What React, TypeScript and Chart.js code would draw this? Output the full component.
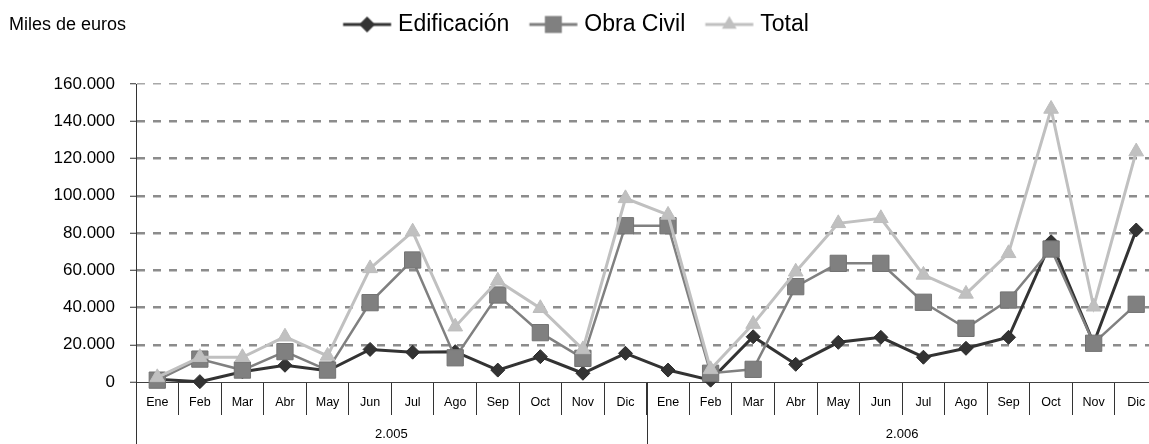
import React, { useEffect, useRef } from 'react';
import { Chart, registerables } from 'chart.js';

Chart.register(...registerables);

const FONT = "'Liberation Sans', Arial, Helvetica, sans-serif";

const unitLabel = 'Miles de euros';
const months = ['Ene', 'Feb', 'Mar', 'Abr', 'May', 'Jun', 'Jul', 'Ago', 'Sep', 'Oct', 'Nov', 'Dic'];
const years = ['2.005', '2.006'];
const categories = [...months, ...months];

const edificacion = [1500, 200, 5500, 9000, 6000, 17500, 16000, 16300, 6400, 13600, 4700, 15400,
  6400, 1000, 24300, 9500, 21300, 24000, 13300, 18100, 24000, 75300, 20800, 81600];
const obraCivil = [1000, 12300, 6400, 16300, 6400, 42600, 65500, 13000, 46700, 26500, 12700, 83900,
  83900, 4700, 6800, 51200, 63700, 63700, 42800, 28800, 44000, 71400, 20800, 41700];
const total = [2500, 13300, 13300, 24300, 14000, 61000, 80700, 29700, 54400, 39600, 17500, 98600,
  89700, 6800, 31100, 59200, 85200, 87900, 57500, 47300, 69100, 146600, 40400, 123700];

const yMax = 160000;
const yStep = 20000;

const seriesNames = ['Edificación', 'Obra Civil', 'Total'];
const seriesColors = ['#333333', '#808080', '#c0c0c0'];
const seriesShapes = ['diamond', 'square', 'triangle'];

const LEGEND_SHIFT = -11;

function fmt(v: number): string {
  return String(Math.round(v)).replace(/\B(?=(\d{3})+(?!\d))/g, '.');
}

function legendGlyph(color: string, shape: string): HTMLCanvasElement {
  const W = 66, H = 26;
  const c = document.createElement('canvas');
  c.width = W; c.height = H;
  const g = c.getContext('2d')!;
  const cx = W / 2 + 5.75, cy = H / 2;
  g.strokeStyle = color; g.lineWidth = 3;
  g.beginPath(); g.moveTo(cx - 24, cy); g.lineTo(cx + 24, cy); g.stroke();
  g.fillStyle = color;
  g.beginPath();
  if (shape === 'diamond') {
    const r = 8;
    g.moveTo(cx, cy - r); g.lineTo(cx + r, cy); g.lineTo(cx, cy + r); g.lineTo(cx - r, cy); g.closePath();
  } else if (shape === 'square') {
    const r = 8.5;
    g.rect(cx - r, cy - r, 2 * r, 2 * r);
  } else {
    const r = 8.5;
    g.moveTo(cx, cy - r);
    g.lineTo(cx + r * Math.sin(2 * Math.PI / 3), cy + r / 2);
    g.lineTo(cx - r * Math.sin(2 * Math.PI / 3), cy + r / 2);
    g.closePath();
  }
  g.fill();
  return c;
}

const yearRowPlugin = {
  id: 'yearRow',
  afterLayout(chart: any) {
    const lg = chart.legend;
    if (lg) { lg.left += LEGEND_SHIFT; lg.right += LEGEND_SHIFT; }
  },
  afterDraw(chart: any) {
    const xs = chart.scales.x;
    const area = chart.chartArea;
    const ctx = chart.ctx;
    ctx.save();
    ctx.strokeStyle = '#333333';
    ctx.lineWidth = 1;
    ctx.fillStyle = '#000000';
    ctx.font = `13px ${FONT}`;
    ctx.textAlign = 'center';
    ctx.textBaseline = 'middle';
    years.forEach((yr, i) => {
      const startV = i * months.length - 0.5;
      const endV = startV + months.length;
      const p0 = xs.getPixelForValue(startV);
      const p1 = xs.getPixelForValue(endV);
      const x0 = Math.round(p0) + 0.5;
      ctx.beginPath();
      ctx.moveTo(x0, area.bottom);
      ctx.lineTo(x0, chart.height);
      ctx.stroke();
      ctx.fillText(yr, (p0 + p1) / 2, area.bottom + 52);
    });
    ctx.restore();
  },
};

export default function App() {
  const ref = useRef<HTMLCanvasElement>(null);

  useEffect(() => {
    const canvas = ref.current;
    if (!canvas) return;
    Chart.defaults.font.family = FONT;
    const glyphs = seriesShapes.map((s, i) => legendGlyph(seriesColors[i], s));
    const seriesData = [edificacion, obraCivil, total];

    const chart = new Chart(canvas, {
      type: 'line',
      data: {
        labels: categories,
        datasets: [
          {
            label: seriesNames[0], data: seriesData[0],
            borderColor: seriesColors[0], backgroundColor: seriesColors[0], borderWidth: 3,
            pointStyle: 'rectRot', pointRadius: 7, pointBorderWidth: 1,
            pointBorderColor: '#2b2b2b', pointBackgroundColor: seriesColors[0],
            order: 3, clip: false, tension: 0,
          },
          {
            label: seriesNames[1], data: seriesData[1],
            borderColor: seriesColors[1], backgroundColor: seriesColors[1], borderWidth: 2.5,
            pointStyle: 'rect', pointRadius: 11.5, pointBorderWidth: 1,
            pointBorderColor: '#737373', pointBackgroundColor: seriesColors[1],
            order: 2, clip: false, tension: 0,
          },
          {
            label: seriesNames[2], data: seriesData[2],
            borderColor: seriesColors[2], backgroundColor: seriesColors[2], borderWidth: 3,
            pointStyle: 'triangle', pointRadius: 8.5, pointBorderWidth: 1,
            pointBorderColor: '#bdbdbd', pointBackgroundColor: seriesColors[2],
            order: 1, clip: false, tension: 0,
          },
        ] as any,
      },
      options: {
        responsive: false,
        animation: false,
        devicePixelRatio: 1,
        layout: { padding: { left: 9, right: 12, top: 0, bottom: 0 } },
        plugins: {
          legend: {
            display: true,
            position: 'top',
            align: 'center',
            weight: 3000,
            labels: {
              usePointStyle: true,
              pointStyleWidth: 50.5,
              padding: 13,
              color: '#000000',
              font: { size: 23, family: FONT },
              generateLabels: (ch: any) => ch.data.datasets.map((ds: any, i: number) => ({
                text: ds.label,
                pointStyle: glyphs[i],
                fillStyle: 'rgba(0,0,0,0)',
                strokeStyle: 'rgba(0,0,0,0)',
                lineWidth: 0,
                hidden: false,
                datasetIndex: i,
                fontColor: '#000000',
              })),
            },
          } as any,
          title: {
            display: true,
            text: unitLabel,
            align: 'start',
            color: '#000000',
            font: { size: 18, family: FONT, weight: 'normal' },
            padding: { top: -31.8, bottom: 48.2 },
          } as any,
          tooltip: { enabled: false },
        },
        scales: {
          x: {
            type: 'category',
            offset: true,
            afterFit: (s: any) => { s.height = 62; },
            grid: {
              display: true, offset: true, drawOnChartArea: false, drawTicks: true,
              tickLength: 33, tickColor: '#333333', tickWidth: 1, color: '#333333',
            },
            border: { display: true, color: '#404040', width: 1 },
            ticks: {
              autoSkip: false, maxRotation: 0, minRotation: 0, padding: -19.5,
              color: '#000000', font: { size: 12.5, family: FONT },
            },
          } as any,
          y: {
            min: 0,
            max: yMax,
            afterFit: (s: any) => { s.width = 127; },
            ticks: {
              stepSize: yStep, padding: 15, color: '#000000',
              font: { size: 17, family: FONT },
              callback: (v: any) => fmt(Number(v)),
            },
            grid: {
              color: (c: any) => {
                const v = c.tick ? c.tick.value : -1;
                if (v === 0) return 'rgba(0,0,0,0)';
                return v === yMax ? '#a8a8a8' : '#8c8c8c';
              },
              lineWidth: (c: any) => (c.tick && c.tick.value === yMax ? 1.5 : 2.5),
              tickLength: 6, tickColor: '#333333', tickWidth: 1, drawTicks: true,
            },
            border: { display: true, color: '#333333', width: 1, dash: [8, 8] },
          } as any,
        },
      },
      plugins: [yearRowPlugin],
    });
    return () => chart.destroy();
  }, []);

  return (
    <div style={{ position: 'fixed', left: 0, top: 0, width: 1149, height: 444, overflow: 'hidden', background: '#ffffff' }}>
      <canvas ref={ref} width={1170} height={444} style={{ display: 'block' }} />
    </div>
  );
}
